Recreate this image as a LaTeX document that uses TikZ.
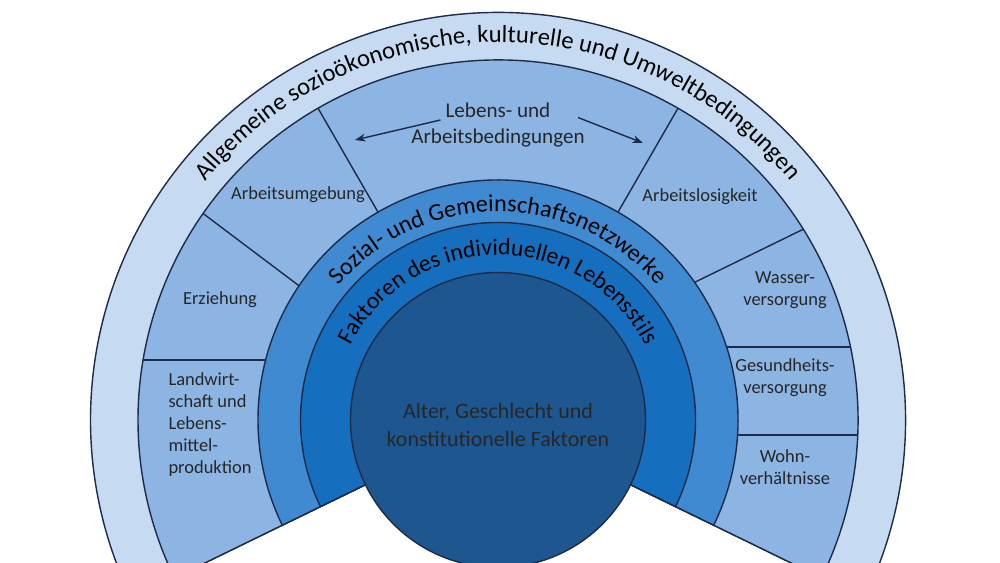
\documentclass[tikz,border=0pt]{standalone}
\usepackage{fontspec}
\setmainfont{Carlito}
\usetikzlibrary{arrows.meta}
\usetikzlibrary{decorations.text}
\definecolor{ringA}{HTML}{C6DBF1}
\definecolor{ringB}{HTML}{8DB5E3}
\definecolor{ringC}{HTML}{3F8AD0}
\definecolor{ringD}{HTML}{166EBF}
\definecolor{kern}{HTML}{1E578F}
\definecolor{rim}{HTML}{1C2B4A}
\tikzset{
  sector/.style={draw=rim, line width=0.8pt},
  lbl/.style={align=center, font=\fontsize{10.5}{12.5}\selectfont, text=black!85},
  bow/.style={decorate, decoration={text along path, text align=center}},
}
\begin{document}
\begin{tikzpicture}
\clip (-9.96,-2.86) rectangle (10.04,8.4);
\fill[white] (-9.96,-2.86) rectangle (10.04,8.4);
%
\fill[ringA, sector] (0,0) -- (-26:8.15) arc[start angle=-26, end angle=206, radius=8.15] -- cycle;
\fill[ringB, sector] (0,0) -- (-26:7.2) arc[start angle=-26, end angle=206, radius=7.2] -- cycle;
\fill[ringC, sector] (0,0) -- (-26:4.8) arc[start angle=-26, end angle=206, radius=4.8] -- cycle;
\fill[ringD, sector] (0,0) -- (-26:3.95) arc[start angle=-26, end angle=206, radius=3.95] -- cycle;
\fill[kern, sector] (0,0) circle[radius=2.95];
%
\draw[sector] (60:4.8) -- (60:7.2);
\draw[sector] (120:4.8) -- (120:7.2);
\draw[sector] (146:4.8) -- (145:7.2);
\draw[sector] (35:4.8) -- (32:7.2);
\draw[sector] (-4.65,1.2) -- (-7.1,1.2);
\draw[sector] (4.57,1.46) -- (7.05,1.46);
\draw[sector] (4.79,-0.3) -- (7.19,-0.3);
%
\path[bow, decoration={text={|\fontsize{14}{16}\selectfont|Allgemeine sozioökonomische, kulturelle und Umweltbedingungen}}]
  (155:7.55) arc[start angle=155, end angle=25, radius=7.55];
\path[bow, decoration={text={|\fontsize{13.8}{16}\selectfont|Sozial- und Gemeinschaftsnetzwerke}}]
  (160:4.17) arc[start angle=160, end angle=20, radius=4.17];
\path[bow, decoration={text={|\fontsize{13.5}{16}\selectfont|Faktoren des individuellen Lebensstils}}]
  (170:3.3) arc[start angle=170, end angle=10, radius=3.3];
%
\node[lbl, font=\fontsize{12}{15}\selectfont] (leben) at (0,5.9) {Lebens- und\\Arbeitsbedingungen};
\node[lbl] (umgebung) at (-4.0,4.5) {Arbeitsumgebung};
\node[lbl] (losigkeit) at (4.04,4.46) {Arbeitslosigkeit};
\node[lbl] (erziehung) at (-5.56,2.4) {Erziehung};
\node[lbl, align=left] (landwirt) at (-5.76,-0.1) {Landwirt-\\schaft und\\Lebens-\\mittel-\\produktion};
\node[lbl] (wasser) at (5.74,2.6) {Wasser-\\versorgung};
\node[lbl] (gesund) at (5.74,0.85) {Gesundheits-\\versorgung};
\node[lbl] (wohn) at (5.74,-0.95) {Wohn-\\verhältnisse};
\node[lbl, font=\fontsize{12.5}{16}\selectfont] (alter) at (0,-0.1) {Alter, Geschlecht und\\konstitutionelle Faktoren};
%
\coordinate (LA) at (-1.15,6.0);
\coordinate (LB) at (-2.86,5.6);
\coordinate (RA) at (1.6,6.05);
\coordinate (RB) at (2.9,5.54);
\draw[-{Stealth[length=6pt]}, thick, rim] (LA) -- (LB);
\draw[-{Stealth[length=6pt]}, thick, rim] (RA) -- (RB);
\end{tikzpicture}
\end{document}
